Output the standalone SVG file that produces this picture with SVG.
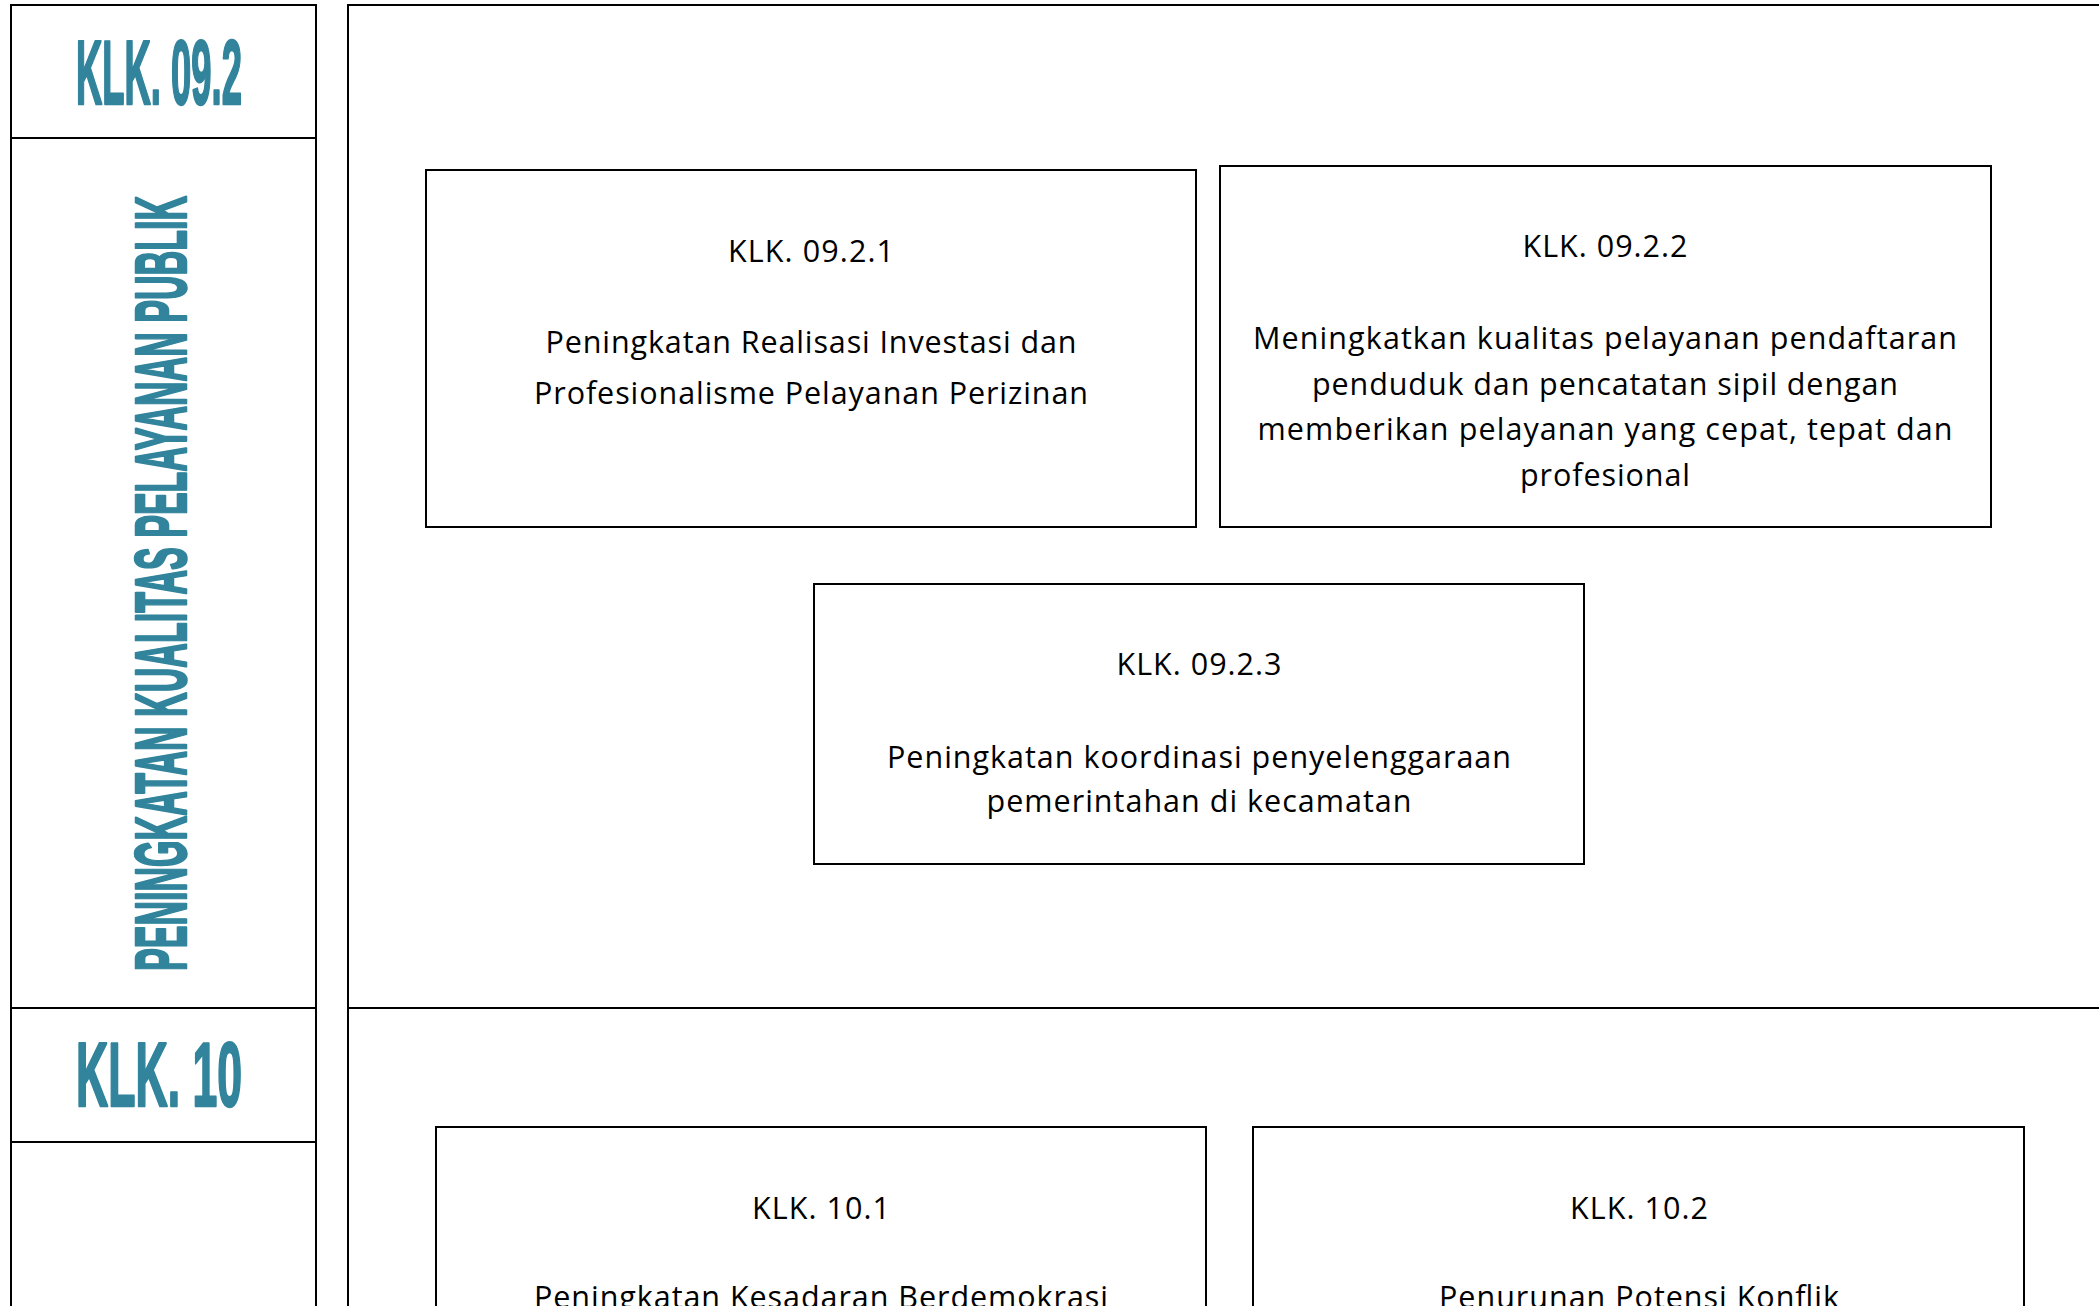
<svg xmlns="http://www.w3.org/2000/svg" width="2099" height="1306" viewBox="0 0 2099 1306">
<style>
.frame{fill:none;stroke:#000;stroke-width:2}
.box{fill:#fff;stroke:#000;stroke-width:2}
.t{font-family:"Open Sans","Noto Sans",sans-serif;font-size:30.5px;fill:#000;text-anchor:middle}
.h{font-family:"Liberation Sans",Arial,sans-serif;font-weight:bold;fill:#31849b;stroke:#31849b;stroke-width:2.5;stroke-linejoin:round;text-anchor:middle}
</style>
<rect width="2099" height="1306" fill="#fff"/>
<g id="frame">
<rect class="frame" x="11" y="5" width="305" height="1320"/>
<line class="frame" x1="11" y1="138" x2="316" y2="138"/>
<line class="frame" x1="11" y1="1008" x2="316" y2="1008"/>
<line class="frame" x1="11" y1="1142" x2="316" y2="1142"/>
<rect class="frame" x="348" y="5" width="1800" height="1320"/>
<line class="frame" x1="348" y1="1008" x2="2099" y2="1008"/>
</g>
<g id="klk092-title">
<text class="h" x="159" y="104" font-size="90" textLength="166" lengthAdjust="spacingAndGlyphs">KLK. 09.2</text>
</g>
<g id="klk092-name">
<text class="h" transform="translate(186,583.5) rotate(-90)" x="0" y="0" font-size="72" textLength="775" lengthAdjust="spacingAndGlyphs">PENINGKATAN KUALITAS PELAYANAN PUBLIK</text>
</g>
<g id="klk10-title">
<text class="h" x="159" y="1106" font-size="90" textLength="166" lengthAdjust="spacingAndGlyphs">KLK. 10</text>
</g>
<g id="klk0921">
<rect class="box" x="426" y="170" width="770" height="357"/>
<text class="t" x="811" y="262" textLength="166">KLK. 09.2.1</text>
<text class="t" x="811" y="353" textLength="531">Peningkatan Realisasi Investasi dan</text>
<text class="t" x="811" y="404" textLength="554">Profesionalisme Pelayanan Perizinan</text>
</g>
<g id="klk0922">
<rect class="box" x="1220" y="166" width="771" height="361"/>
<text class="t" x="1605" y="257" textLength="165">KLK. 09.2.2</text>
<text class="t" x="1605" y="349" textLength="704">Meningkatkan kualitas pelayanan pendaftaran</text>
<text class="t" x="1605" y="395" textLength="586">penduduk dan pencatatan sipil dengan</text>
<text class="t" x="1605" y="440" textLength="695">memberikan pelayanan yang cepat, tepat dan</text>
<text class="t" x="1605" y="486" textLength="170">profesional</text>
</g>
<g id="klk0923">
<rect class="box" x="814" y="584" width="770" height="280"/>
<text class="t" x="1199" y="675" textLength="165">KLK. 09.2.3</text>
<text class="t" x="1199" y="768" textLength="624">Peningkatan koordinasi penyelenggaraan</text>
<text class="t" x="1199" y="812" textLength="425">pemerintahan di kecamatan</text>
</g>
<g id="klk101">
<rect class="box" x="436" y="1127" width="770" height="220"/>
<text class="t" x="821" y="1219" textLength="138">KLK. 10.1</text>
<text class="t" x="821" y="1308" textLength="574">Peningkatan Kesadaran Berdemokrasi</text>
</g>
<g id="klk102">
<rect class="box" x="1253" y="1127" width="771" height="220"/>
<text class="t" x="1639" y="1219" textLength="138">KLK. 10.2</text>
<text class="t" x="1639" y="1308" textLength="400">Penurunan Potensi Konflik</text>
</g>
<g id="connectors"/>
</svg>
